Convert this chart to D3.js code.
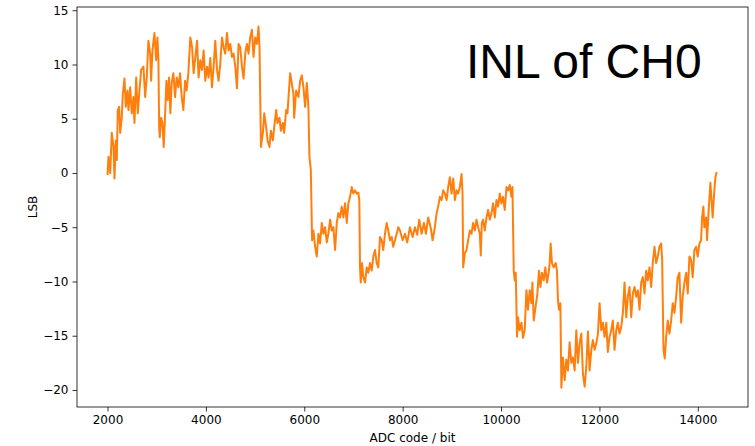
<!DOCTYPE html>
<html>
<head>
<meta charset="utf-8">
<script src="https://cdn.jsdelivr.net/npm/d3@7"></script>
<style>
  body { margin: 0; background: #fff; }
  svg { display: block; }
  .axis text { font-family: "DejaVu Sans", sans-serif; font-size: 12px; fill: #000; }
  .axis path, .axis line { stroke: #000; stroke-width: 0.8; }
  .label { font-family: "DejaVu Sans", sans-serif; font-size: 12px; fill: #000; }
  .title { font-family: "Liberation Sans", Arial, sans-serif; font-size: 48px; fill: #000; }
</style>
</head>
<body>
<div id="chart"></div>
<script>
// values
const adcCode = [
  2000, 2020, 2055, 2087, 2122, 2142, 2168, 2189, 2209, 2237, 2258, 2290, 2311, 2345, 2372, 2406,
  2426, 2461, 2493, 2528, 2548, 2583, 2615, 2650, 2684, 2731, 2765, 2798, 2832, 2867, 2887, 2914,
  2954, 2989, 3015, 3035, 3050, 3062, 3090, 3117, 3143, 3172, 3198, 3224, 3252, 3278, 3305, 3339,
  3374, 3406, 3441, 3475, 3508, 3542, 3577, 3609, 3643,
  3684, 3719, 3751, 3786, 3820, 3852, 3887, 3921, 3954, 3988, 4023, 4055, 4090, 4124, 4157, 4191,
  4226, 4258, 4293, 4327, 4360, 4394, 4429, 4461, 4496, 4530, 4563, 4597, 4632, 4664, 4699, 4733,
  4766, 4800, 4834, 4867, 4901, 4936, 4968, 5003, 5037, 5070, 5090, 5119, 5159, 5186, 5226, 5253,
  5293, 5321, 5362, 5388, 5429, 5455, 5496, 5524, 5565, 5591, 5632, 5658,
  5713, 5780, 5794, 5835, 5881, 5916, 5950, 5983, 6017, 6052, 6084, 6105, 6133, 6159, 6186, 6220,
  6255, 6287, 6322, 6356, 6389, 6423, 6458, 6490, 6525, 6559, 6592, 6626, 6661, 6693, 6728, 6762,
  6795, 6829, 6864, 6896, 6930, 6965, 6997, 7032, 7066, 7099, 7119, 7133, 7148, 7174, 7200, 7235,
  7269, 7302, 7336, 7371, 7403, 7438, 7472, 7505, 7539, 7574, 7606, 7641, 7675, 7708, 7742, 7777,
  7809, 7844, 7878, 7911,
  7945, 8000, 8046, 8093, 8148, 8203, 8249, 8296, 8337, 8385, 8432, 8473, 8519, 8568, 8608, 8655,
  8690, 8722, 8757, 8791, 8824, 8858, 8893, 8925, 8959, 8994, 9027, 9061, 9095, 9128, 9162, 9197,
  9217, 9230, 9264, 9298, 9331, 9365, 9400, 9432, 9467, 9501, 9534, 9568, 9588, 9609, 9635, 9670,
  9704, 9737, 9771, 9806, 9838, 9873, 9907, 9940, 9974, 10008, 10041, 10075, 10110, 10142, 10177,
  10211, 10232,
  10258, 10278, 10299, 10325, 10345, 10380, 10414, 10447, 10481, 10516, 10548, 10583, 10617, 10638,
  10664, 10704, 10739, 10771, 10800, 10832, 10867, 10901, 10934, 10968, 10988, 11009, 11035, 11070,
  11110, 11137, 11157, 11177, 11206, 11226, 11258, 11293, 11327, 11360, 11394, 11429, 11461, 11496,
  11530, 11563, 11597, 11632, 11664, 11699, 11733, 11766, 11800, 11835, 11867, 11902, 11936, 11969,
  12003, 12037, 12070, 12104, 12139, 12171, 12206, 12240, 12273, 12307, 12342, 12374,
  12409, 12443, 12476, 12510, 12545, 12577, 12612, 12646, 12679, 12713, 12748, 12780, 12815, 12849,
  12882, 12916, 12950, 12983, 13017, 13052, 13084, 13119, 13153, 13186, 13220, 13255, 13275, 13302,
  13328, 13356, 13389, 13423, 13458, 13490, 13525, 13559, 13592, 13626, 13661, 13693, 13728, 13762,
  13795, 13829, 13863, 13896, 13931, 13965, 13998, 14032, 14066, 14087, 14113, 14133, 14168, 14188,
  14221, 14255, 14275, 14302, 14336, 14357, 14383
];

const inlLsb = [
  -0.2, 1.5, 0.0, 3.7, 2.4, -0.5, 3.0, 1.2, 5.8, 6.1, 3.7, 5.1, 7.3, 8.7, 6.1, 7.6,
  5.8, 7.9, 5.5, 7.0, 4.6, 8.8, 5.5, 7.6, 9.5, 9.8, 7.0, 8.8, 12.2, 11.0, 8.5, 11.3,
  12.9, 10.4, 12.5, 10.4, 4.2, 3.3, 5.1, 4.6, 2.4, 5.5, 8.5, 6.7, 8.8, 5.5, 8.3, 9.2,
  7.0, 8.8, 7.9, 9.2, 7.0, 5.8, 8.5, 7.6, 9.2,
  12.5, 11.6, 9.2, 10.7, 12.2, 8.8, 10.4, 9.5, 11.3, 8.5, 9.8, 8.8, 10.6, 7.9, 9.8, 12.2,
  9.5, 8.5, 10.1, 12.5, 11.6, 11.0, 12.9, 11.3, 11.9, 10.7, 11.0, 9.8, 7.8, 11.9, 11.6, 9.8,
  8.7, 11.0, 11.9, 11.0, 12.5, 13.2, 10.7, 12.5, 11.9, 13.5, 11.6, 2.4, 3.7, 5.5, 4.2, 3.0,
  2.4, 3.9, 3.0, 4.2, 5.8, 4.6, 5.1, 3.9, 4.6, 3.7, 5.8, 5.5,
  9.2, 7.3, 5.1, 7.6, 7.0, 8.5, 9.0, 7.9, 6.1, 8.3, 6.1, 1.5, 0.3, -6.2, -5.3, -6.8,
  -7.7, -5.6, -6.5, -4.6, -5.6, -5.0, -6.4, -5.6, -4.3, -5.3, -5.0, -7.1, -4.6, -3.7, -4.1, -3.1,
  -4.1, -2.8, -4.6, -2.8, -2.2, -1.3, -1.9, -1.6, -1.9, -1.8, -2.5, -8.7, -10.1, -8.3, -9.6, -10.1,
  -8.7, -9.2, -8.3, -9.0, -7.7, -7.1, -8.3, -8.7, -5.9, -6.2, -7.1, -5.6, -4.6, -5.3, -6.2, -5.9,
  -6.8, -6.2, -5.6, -5.0,
  -5.3, -6.2, -5.6, -6.4, -5.0, -5.9, -5.0, -5.7, -4.3, -5.6, -4.6, -5.6, -4.1, -5.0, -6.2, -5.0,
  -3.7, -3.1, -2.2, -2.5, -1.6, -1.9, -2.5, -1.3, -0.4, -1.9, -0.5, -2.5, -1.6, -1.9, -1.3, -0.1,
  -1.9, -8.7, -7.4, -7.1, -6.2, -5.3, -5.6, -4.6, -5.3, -4.3, -5.0, -5.6, -7.6, -4.6, -4.3, -5.3,
  -4.1, -3.4, -4.3, -3.7, -2.8, -4.1, -2.5, -3.1, -1.9, -2.8, -2.2, -3.4, -1.3, -1.6, -1.1,
  -2.2, -1.3,
  -9.0, -9.9, -9.2, -15.1, -13.3, -14.5, -13.8, -15.2, -14.5, -10.8, -12.6, -10.8, -12.0, -10.1,
  -13.6, -12.3, -11.1, -9.0, -10.5, -9.2, -9.9, -8.7, -10.1, -9.2, -8.3, -6.5, -8.3, -8.7,
  -8.3, -9.0, -11.7, -12.6, -12.0, -19.8, -17.0, -19.1, -17.2, -18.2, -15.6, -17.5, -17.0, -18.2,
  -14.5, -17.5, -15.7, -14.8, -18.5, -19.7, -17.9, -14.6, -18.2, -16.3, -15.4, -16.3, -15.7, -14.8,
  -12.0, -14.5, -13.8, -15.1, -13.8, -16.5, -15.1, -14.5, -13.6, -16.3, -14.5, -13.8,
  -14.8, -14.2, -12.9, -10.1, -13.3, -11.4, -10.5, -13.3, -11.1, -10.5, -11.4, -10.8, -12.6, -10.1,
  -9.6, -11.1, -9.0, -9.9, -8.7, -10.5, -8.3, -6.8, -8.3, -7.7, -6.8, -6.5, -8.0, -16.3,
  -17.1, -15.1, -13.6, -14.8, -13.6, -12.0, -12.9, -11.4, -9.6, -9.2, -13.8, -11.4, -10.1, -9.2,
  -11.1, -7.7, -8.0, -9.6, -7.1, -6.8, -7.7, -6.5, -6.2, -4.1, -3.1, -5.0, -4.1, -6.2,
  -3.4, -0.9, -2.2, -4.1, -1.6, -0.4, 0.1
];

const xTicks = [2000, 4000, 6000, 8000, 10000, 12000, 14000];
const yTicks = [-20, -15, -10, -5, 0, 5, 10, 15];

const data = adcCode.map((c, i) => ({ code: c, lsb: inlLsb[i] }));

const W = 755, H = 446;
const margin = { top: 7, right: 7, bottom: 39, left: 77 },
  width = W - margin.left - margin.right,
  height = H - margin.top - margin.bottom;

const svg = d3.select('#chart')
  .append('svg')
  .attr('width', W)
  .attr('height', H);

const g = svg.append('g')
  .attr('transform', `translate(${margin.left},${margin.top})`);

const x = d3.scaleLinear().domain([1380, 15020]).range([0, width]);
const y = d3.scaleLinear().domain([-21.57, 15.3]).range([height, 0]);

const line = d3.line()
  .x((d) => x(d.code))
  .y((d) => y(d.lsb));

g.append('path')
  .datum(data)
  .attr('fill', 'none')
  .attr('stroke', '#ff7f0e')
  .attr('stroke-width', 2)
  .attr('stroke-linejoin', 'round')
  .attr('d', line);

// axes
g.append('g')
  .attr('class', 'axis')
  .attr('transform', `translate(0,${height})`)
  .call(d3.axisBottom(x).tickValues(xTicks).tickFormat(d3.format('d'))
    .tickSizeInner(4.5).tickSizeOuter(0).tickPadding(4));

g.append('g')
  .attr('class', 'axis')
  .call(d3.axisLeft(y).tickValues(yTicks).tickFormat(d3.format('d'))
    .tickSizeInner(4.5).tickSizeOuter(0).tickPadding(4));

// frame
g.append('rect')
  .attr('width', width)
  .attr('height', height)
  .attr('fill', 'none')
  .attr('stroke', '#000')
  .attr('stroke-width', 0.8);

g.selectAll('.axis .domain').remove();

svg.append('text')
  .attr('class', 'label')
  .attr('x', margin.left + width / 2)
  .attr('y', 442)
  .attr('text-anchor', 'middle')
  .text('ADC code / bit');

svg.append('text')
  .attr('class', 'label')
  .attr('transform', `translate(37,${margin.top + height / 2}) rotate(-90)`)
  .attr('text-anchor', 'middle')
  .text('LSB');

svg.append('text')
  .attr('class', 'title')
  .attr('x', 466)
  .attr('y', 78)
  .text('INL of CH0');
</script>
</body>
</html>
